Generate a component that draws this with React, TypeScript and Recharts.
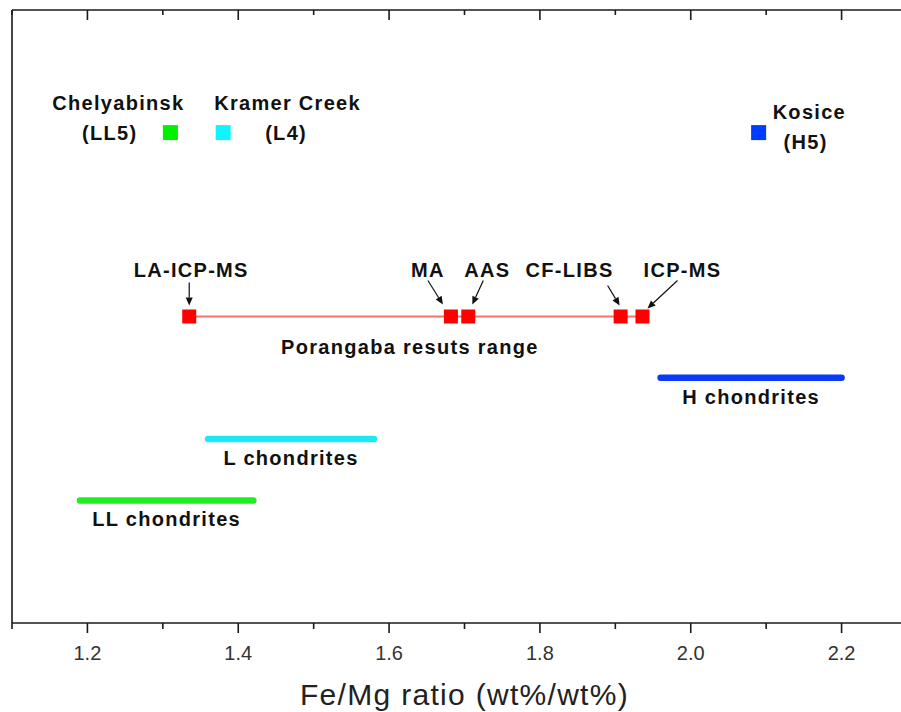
import React from "react";
import { ComposedChart, Scatter, XAxis, YAxis, ReferenceLine } from "recharts";

// Porangaba Fe/Mg ratio by analytical method
const methodNames = ["LA-ICP-MS", "MA", "AAS", "CF-LIBS", "ICP-MS"];
const methodRatios = [1.335, 1.682, 1.705, 1.907, 1.936];

// single meteorites for comparison
const meteoriteNames = ["Chelyabinsk", "Kramer Creek", "Kosice"];
const meteoriteTypes = ["(LL5)", "(L4)", "(H5)"];
const meteoriteRatios = [1.31, 1.38, 2.09];

// ordinary chondrite groups, low/high end of range
const groupNames = ["H chondrites", "L chondrites", "LL chondrites"];
const groupLow = [1.96, 1.36, 1.19];
const groupHigh = [2.2, 1.58, 1.42];

const xTicks = [1.1, 1.2, 1.3, 1.4, 1.5, 1.6, 1.7, 1.8, 1.9, 2.0, 2.1, 2.2, 2.3];

// rows on the hidden y scale
const Y_MAX = 10;
const METEORITE_ROW = 8;
const METHOD_ROW = 5;
const groupRows = [4, 3, 2];

const meteoriteColors = ["#00f000", "#10f4ff", "#003cff"];
const groupColors = ["#0a3cf5", "#1ee8f2", "#1ef01e"];

const FONT = "'Liberation Sans', Arial, sans-serif";
const AXIS = "#1a1a1a";

// layout
const CHART_W = 940;
const CHART_H = 712;
const TOP_AXIS_H = 10;
const BOTTOM_AXIS_H = 89;
const PX_PER_UNIT = (CHART_H - TOP_AXIS_H - BOTTOM_AXIS_H) / Y_MAX;

const boldText = {
  fontFamily: FONT,
  fontWeight: 700,
  fontSize: 20,
  letterSpacing: 1.3,
  fill: "#111",
};

// label placement around each method marker (pixel offsets)
const methodCallouts = [
  { tx: 2, ax: 0, ay: -34, bx: 0, by: -11 },
  { tx: -23, ax: -23, ay: -36, bx: -8, by: -12 },
  { tx: 19, ax: 15, ay: -36, bx: 4, by: -12 },
  { tx: -51, ax: -13, ay: -31, bx: -1, by: -11 },
  { tx: 40, ax: 35, ay: -36, bx: 5, by: -8 },
];

const meteoriteCallouts = [
  { nx: -52, na: "middle", ny: -23, tx: -33, ta: "end", ty: 7 },
  { nx: -9, na: "start", ny: -23, tx: 42, ta: "start", ty: 7 },
  { nx: 14, na: "start", ny: -14, tx: 47, ta: "middle", ty: 16 },
];

const methodData = methodNames.map((name, i) => ({ name, x: methodRatios[i], y: METHOD_ROW, i }));
const meteoriteData = meteoriteNames.map((name, i) => ({
  name,
  type: meteoriteTypes[i],
  x: meteoriteRatios[i],
  y: METEORITE_ROW,
  i,
}));

const isMajor = (v: number) => Math.round(v * 10) % 2 === 0;

function Arrow({ x1, y1, x2, y2 }: { x1: number; y1: number; x2: number; y2: number }) {
  const dx = x2 - x1;
  const dy = y2 - y1;
  const len = Math.hypot(dx, dy);
  const ux = dx / len;
  const uy = dy / len;
  const hl = 8;
  const hw = 3.5;
  const bx = x2 - ux * hl;
  const by = y2 - uy * hl;
  const pts = `${x2},${y2} ${bx - uy * hw},${by + ux * hw} ${bx + uy * hw},${by - ux * hw}`;
  return (
    <g>
      <line x1={x1} y1={y1} x2={bx} y2={by} stroke="#111" strokeWidth={1.2} />
      <polygon points={pts} fill="#111" />
    </g>
  );
}

function MethodMarker(props: any) {
  const { cx, cy, payload } = props;
  const c = methodCallouts[payload.i];
  return (
    <g>
      <rect x={cx - 7} y={cy - 7} width={14} height={14} fill="#ff0000" />
      <text x={cx + c.tx} y={cy - 40} textAnchor="middle" {...boldText}>
        {payload.name}
      </text>
      <Arrow x1={cx + c.ax} y1={cy + c.ay} x2={cx + c.bx} y2={cy + c.by} />
    </g>
  );
}

function MeteoriteMarker(props: any) {
  const { cx, cy, payload } = props;
  const c = meteoriteCallouts[payload.i];
  return (
    <g>
      <rect x={cx - 7.5} y={cy - 7.5} width={15} height={15} fill={meteoriteColors[payload.i]} />
      <text x={cx + c.nx} y={cy + c.ny} textAnchor={c.na} {...boldText}>
        {payload.name}
      </text>
      <text x={cx + c.tx} y={cy + c.ty} textAnchor={c.ta} {...boldText}>
        {payload.type}
      </text>
    </g>
  );
}

// bottom axis tick: outward mark, label on majors
function BottomTick(props: any) {
  const { x, y, payload } = props;
  const major = isMajor(payload.value);
  return (
    <g>
      <line x1={x} x2={x} y1={y} y2={y + (major ? 10 : 6)} stroke={AXIS} strokeWidth={1.6} />
      {major && (
        <text x={x} y={y + 37} textAnchor="middle" fontFamily={FONT} fontSize={20} fill="#333">
          {payload.value.toFixed(1)}
        </text>
      )}
    </g>
  );
}

function groupLabel(text: string) {
  return (p: any) => {
    const vb = p.viewBox;
    return (
      <text x={vb.x + vb.width / 2} y={vb.y + 26} textAnchor="middle" {...boldText}>
        {text}
      </text>
    );
  };
}

export default function App() {
  const axisTitle = (p: any) => {
    const vb = p.viewBox;
    return (
      <text x={vb.x + vb.width / 2} y={vb.y + vb.height - 7} textAnchor="middle" fontFamily={FONT} fontSize={30} letterSpacing={1.3} fill="#222">
        Fe/Mg ratio (wt%/wt%)
      </text>
    );
  };

  return (
    <div style={{ position: "fixed", left: 0, top: 0, width: 901, height: 712, overflow: "hidden", background: "#fff" }}>
      <ComposedChart width={CHART_W} height={CHART_H} margin={{ top: 0, right: 13, left: 2, bottom: 0 }}>
        <XAxis
          dataKey="x"
          type="number"
          domain={[1.1, 2.3]}
          ticks={xTicks}
          interval={0}
          allowDataOverflow
          tickSize={0}
          tickMargin={0}
          tickLine={false}
          tick={<BottomTick />}
          height={BOTTOM_AXIS_H}
          axisLine={{ stroke: AXIS, strokeWidth: 1.6 }}
          label={axisTitle}
        />
        <XAxis
          xAxisId="top"
          orientation="top"
          type="number"
          domain={[1.1, 2.3]}
          tick={false}
          tickLine={false}
          height={TOP_AXIS_H}
          axisLine={{ stroke: AXIS, strokeWidth: 1.6 }}
        />
        <YAxis
          dataKey="y"
          type="number"
          domain={[0, Y_MAX]}
          allowDataOverflow
          width={10}
          tick={false}
          tickLine={false}
          axisLine={{ stroke: AXIS, strokeWidth: 1.6 }}
        />
        <YAxis
          yAxisId="right"
          orientation="right"
          type="number"
          domain={[0, Y_MAX]}
          width={10}
          tick={false}
          tickLine={false}
          axisLine={{ stroke: AXIS, strokeWidth: 1.6 }}
        />

        {/* inward marks hanging from the top frame */}
        {xTicks.map((v) => (
          <ReferenceLine
            key={`top-${v}`}
            ifOverflow="visible"
            segment={[
              { x: v, y: Y_MAX },
              { x: v, y: Y_MAX - (isMajor(v) ? 10 : 5) / PX_PER_UNIT },
            ]}
            stroke={AXIS}
            strokeWidth={1.6}
          />
        ))}

        {groupNames.map((name, i) => (
          <ReferenceLine
            key={name}
            segment={[
              { x: groupLow[i], y: groupRows[i] },
              { x: groupHigh[i], y: groupRows[i] },
            ]}
            stroke={groupColors[i]}
            strokeWidth={6.5}
            strokeLinecap="round"
            label={groupLabel(name)}
          />
        ))}

        <ReferenceLine
          segment={[
            { x: methodRatios[0], y: METHOD_ROW },
            { x: methodRatios[methodRatios.length - 1], y: METHOD_ROW },
          ]}
          stroke="transparent"
          label={(p: any) => (
            <text x={p.viewBox.x + p.viewBox.width / 2 - 6} y={p.viewBox.y + 37} textAnchor="middle" {...boldText}>
              Porangaba resuts range
            </text>
          )}
        />

        <Scatter
          data={methodData}
          line={{ stroke: "#ff6e6e", strokeWidth: 2 }}
          shape={<MethodMarker />}
          isAnimationActive={false}
        />
        <Scatter data={meteoriteData} shape={<MeteoriteMarker />} isAnimationActive={false} />
      </ComposedChart>
    </div>
  );
}
